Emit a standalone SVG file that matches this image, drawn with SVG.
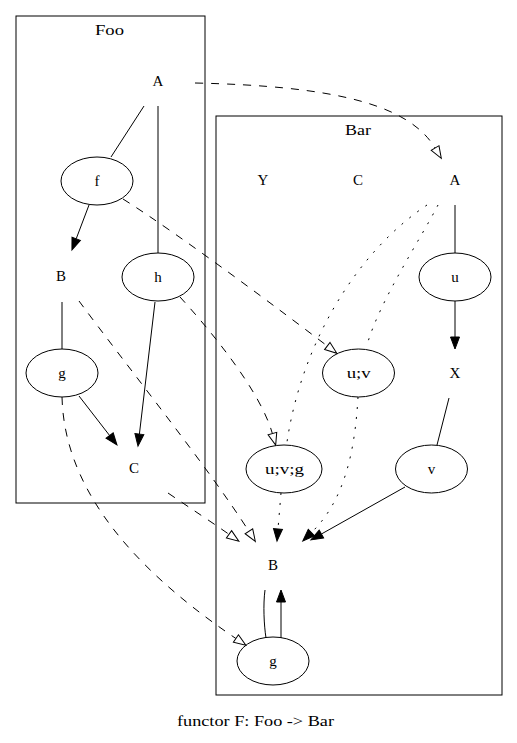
<svg xmlns="http://www.w3.org/2000/svg" width="517" height="743" viewBox="0 0 517 743">
<defs>
<style>
text{font-family:"Liberation Serif","Times New Roman",serif;font-size:15px;text-anchor:middle;fill:#000}
text.w{text-anchor:start}
.cl{fill:none;stroke:#000;stroke-width:1}
.nd{fill:none;stroke:#000;stroke-width:1}
.e{fill:none;stroke:#000;stroke-width:1}
.da{stroke-dasharray:8,8}
.do{stroke-dasharray:2,8}
.af{marker-end:url(#arrF)}
.ah{marker-end:url(#arrH)}
</style>
<marker id="arrF" markerUnits="userSpaceOnUse" markerWidth="14" markerHeight="11" viewBox="0 -5.5 14 11" refX="0" refY="0" orient="auto" overflow="visible">
<path d="M0,-4.5 L12,0 L0,4.5 Z" fill="#000" stroke="#000" stroke-width="1"/>
</marker>
<marker id="arrH" markerUnits="userSpaceOnUse" markerWidth="14" markerHeight="11" viewBox="0 -5.5 14 11" refX="0" refY="0" orient="auto" overflow="visible">
<path d="M0,-4.5 L12,0 L0,4.5 Z" fill="#fff" stroke="#000" stroke-width="1"/>
</marker>
</defs>
<rect width="517" height="743" fill="#fff"/>
<g id="cluster_Foo">
<rect class="cl" x="16" y="16" width="189" height="487"/>
<text class="w" x="95" y="35" textLength="29" lengthAdjust="spacingAndGlyphs">Foo</text>
</g>
<g id="cluster_Bar">
<rect class="cl" x="216" y="116" width="286" height="579"/>
<text class="w" x="345" y="135" textLength="26" lengthAdjust="spacingAndGlyphs">Bar</text>
</g>
<g id="edges">
<path class="e" d="M144,106 L111,157"/>
<path class="e" d="M158,106 L158,253"/>
<path class="e af" d="M89,205 L76.2,238.8"/>
<path class="e" d="M62,302 L62,349"/>
<path class="e af" d="M79,396 L109.6,435.5"/>
<path class="e af" d="M155,302 L139.4,434.1"/>
<path class="e da ah" d="M195,83 C330,86 408,103 435.1,148"/>
<path class="e da ah" d="M123,199 C180,235 280,310 327.3,346"/>
<path class="e da ah" d="M180,297 C210,330 260,390 272.4,433.6"/>
<path class="e da ah" d="M79,301 C130,370 210,470 248.9,531.3"/>
<path class="e da ah" d="M168,493 C190,508 210,521 229,534.3"/>
<path class="e da ah" d="M62,397 C64,480 120,560 235.9,638.5"/>
<path class="e" d="M455,205 L455,253"/>
<path class="e af" d="M455,301 L455,337"/>
<path class="e" d="M449,398 L437,445"/>
<path class="e af" d="M405,487 L321.4,534"/>
<path class="e do af" d="M358,397 C355,450 345,500 311.4,532.6"/>
<path class="e do af" d="M281,493 L278,529"/>
<path class="e do" d="M427,205 C357,252 302,342 287,442"/>
<path class="e do" d="M438,205 C420,240 380,300 367,345"/>
<path class="e" d="M265,590 C263,605 264,625 266,638"/>
<path class="e af" d="M281,638 L281,602"/>
</g>
<g id="Foo_A"><text x="158" y="86">A</text></g>
<g id="Foo_f"><ellipse class="nd" cx="97" cy="181" rx="36" ry="24"/><text x="97" y="186">f</text></g>
<g id="Foo_B"><text x="61" y="281">B</text></g>
<g id="Foo_h"><ellipse class="nd" cx="158" cy="277" rx="36" ry="24"/><text x="158" y="282">h</text></g>
<g id="Foo_g"><ellipse class="nd" cx="62" cy="373" rx="36" ry="24"/><text x="62" y="378">g</text></g>
<g id="Foo_C"><text x="134" y="473">C</text></g>
<g id="Bar_Y"><text x="263" y="185">Y</text></g>
<g id="Bar_C"><text x="358" y="185">C</text></g>
<g id="Bar_A"><text x="455" y="185">A</text></g>
<g id="Bar_u"><ellipse class="nd" cx="455" cy="277" rx="36" ry="24"/><text x="455" y="282">u</text></g>
<g id="Bar_X"><text x="455" y="378">X</text></g>
<g id="Bar_uv"><ellipse class="nd" cx="358.5" cy="373" rx="36" ry="24"/><text class="w" x="346.7" y="378" textLength="24" lengthAdjust="spacingAndGlyphs">u;v</text></g>
<g id="Bar_uvg"><ellipse class="nd" cx="284" cy="469" rx="38" ry="24"/><text class="w" x="265" y="474" textLength="39" lengthAdjust="spacingAndGlyphs">u;v;g</text></g>
<g id="Bar_v"><ellipse class="nd" cx="431.5" cy="469" rx="36" ry="24"/><text x="431.5" y="474">v</text></g>
<g id="Bar_B"><text x="273" y="570">B</text></g>
<g id="Bar_g"><ellipse class="nd" cx="273" cy="661" rx="36" ry="24"/><text x="273" y="666">g</text></g>
<g id="graph_label"><text class="w" x="177" y="726" textLength="157" lengthAdjust="spacingAndGlyphs">functor F: Foo -&gt; Bar</text></g>
</svg>
